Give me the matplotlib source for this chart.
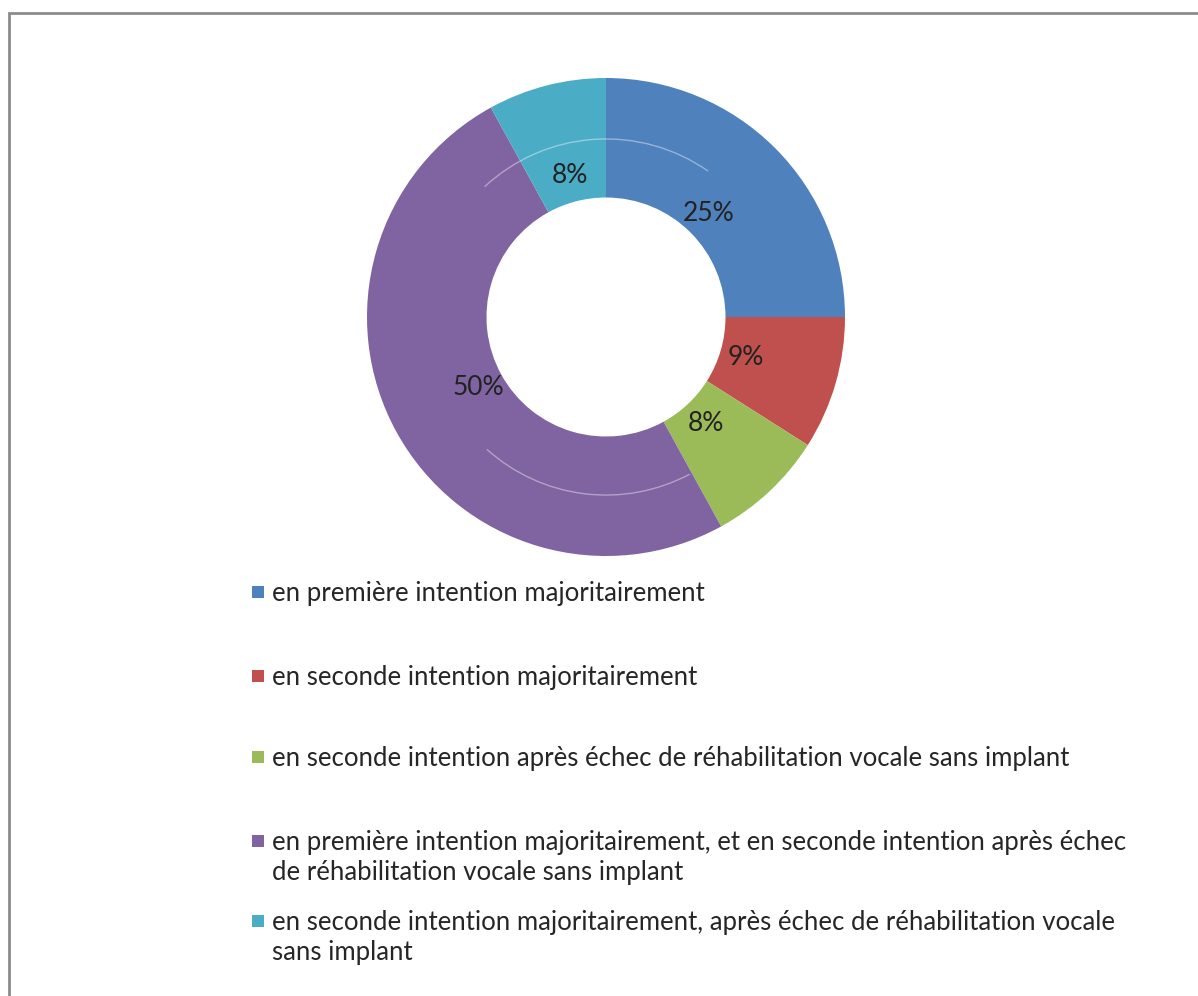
import matplotlib.pyplot as plt
import matplotlib.patches as mpatches

# Data
labels = [
    "en première intention majoritairement",
    "en seconde intention majoritairement",
    "en seconde intention après échec de réhabilitation vocale sans implant",
    "en première intention majoritairement, et en seconde intention après échec\nde réhabilitation vocale sans implant",
    "en seconde intention majoritairement, après échec de réhabilitation vocale\nsans implant",
]
values = [25, 9, 8, 50, 8]
colors = ["#4F81BD", "#C0504D", "#9BBB59", "#8064A2", "#4BACC6"]

W, H = 1198, 996
fig = plt.figure(figsize=(W / 100, H / 100), dpi=100)
fig.patch.set_facecolor("white")

# frame (only top and left edges inside the picture)
fig.add_artist(mpatches.Rectangle((9 / W, -0.1), 1.2, 1 - 13 / H + 0.1,
                                  transform=fig.transFigure, fill=False,
                                  edgecolor="#8c8c8c", linewidth=2))

# Donut
cx, cy, r = 606, 317, 239
ax = fig.add_axes([(cx - r) / W, (H - cy - r) / H, 2 * r / W, 2 * r / H])
wedges, texts, autotexts = ax.pie(
    values, colors=colors, startangle=90, counterclock=False, radius=1,
    wedgeprops=dict(width=0.5, linewidth=0),
    autopct=lambda p: f"{p:.0f}%", pctdistance=0.61,
    textprops=dict(fontsize=19, color="#222222", family="Lato"))
# faint inner ring seam
ax.add_patch(mpatches.Arc((0, 0), 1.49, 1.49, theta1=55, theta2=133,
                          color="white", alpha=0.4, linewidth=1))
ax.add_patch(mpatches.Arc((0, 0), 1.49, 1.49, theta1=228, theta2=298,
                          color="white", alpha=0.4, linewidth=1))
ax.set_xlim(-1, 1)
ax.set_ylim(-1, 1)
ax.set_aspect("equal")
ax.axis("off")

# Legend drawn by hand
fs = 18.5
leg_y = [592, 676, 757, 841, 921]
for lab, col, y in zip(labels, colors, leg_y):
    fig.add_artist(mpatches.Rectangle((252 / W, 1 - (y + 6) / H), 12 / W, 12 / H,
                                      transform=fig.transFigure, facecolor=col,
                                      edgecolor="none"))
    fig.text(272 / W, 1 - (y - 0.41 * fs * 100 / 72) / H, lab, fontsize=fs,
             family="Lato", color="#262626", va="top", ha="left",
             linespacing=1.25)

fig.savefig("out.png", dpi=100)
